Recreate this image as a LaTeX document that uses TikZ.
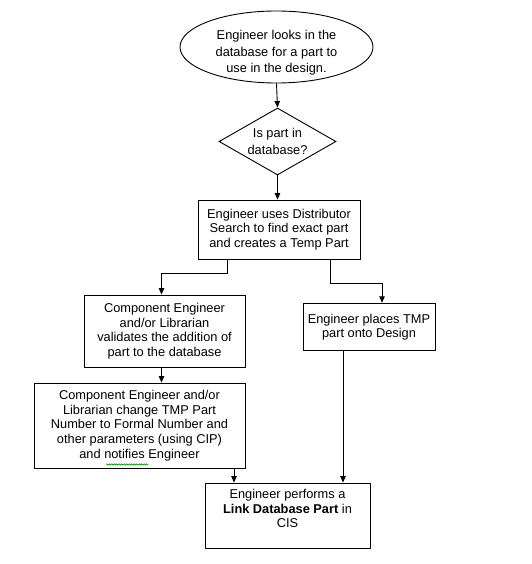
\documentclass[tikz,border=0pt]{standalone}
\usepackage{fontspec}
\setmainfont{Liberation Sans}
\usetikzlibrary{shapes.geometric,arrows.meta,decorations.pathmorphing}
\begin{document}
\begin{tikzpicture}[x=1pt,y=-1pt,
  line width=0.9pt,
  base/.style={draw=black, align=center, inner sep=0pt, font=\fontsize{12.8}{14.6}\selectfont},
  boxnode/.style={base, rectangle},
  tallfont/.style={font=\fontsize{12.8}{16.6}\selectfont},
  arr/.style={-{Triangle[length=6.5pt,width=5.5pt]}},
]
\useasboundingbox (0,0) rectangle (531,564);
\node[base, ellipse, minimum width=193pt, minimum height=72pt,
  label={[tallfont, align=center, yshift=-6pt]center:Engineer looks in the\\database for a part to\\use in the design.}] (e) at (276.5,47) {};
\node[base, diamond, aspect=1.75, minimum width=117pt, minimum height=67pt, tallfont] (d) at (277.5,141.5) {Is part in\\database?};
\node[boxnode, minimum width=162pt, minimum height=59pt] (b1) at (279,229.5) {Engineer uses Distributor\\Search to find exact part\\and creates a Temp Part};
\node[boxnode, minimum width=161pt, minimum height=72pt] (b2) at (164.5,331) {Component Engineer\\and/or Librarian\\validates the addition of\\part to the database};
\node[boxnode, minimum width=132pt, minimum height=47.5pt] (b5) at (369,327) {Engineer places TMP\\part onto Design};
\node[boxnode, minimum width=211pt, minimum height=85pt] (b3) at (139.5,425.5) {Component Engineer and/or\\Librarian change TMP Part\\Number to Formal Number and\\other parameters (using CIP)\\and notifies Engineer};
\node[boxnode, minimum width=165pt, minimum height=65pt,
  label={[font=\fontsize{12.8}{14.6}\selectfont, align=center, yshift=7pt]center:Engineer performs a\\\textbf{Link Database Part} in\\CIS}] (b4) at (287.5,515.5) {};

\coordinate (ka) at (227,273);
\coordinate (kb) at (161.5,273);
\coordinate (kc) at (330,283);
\coordinate (kd) at (382,283);
\coordinate (ke) at (234,0);
\coordinate (kf) at (343,0);

\draw[arr] (e.south) -- (d.north);
\draw[arr] (d.south) -- (d.south |- b1.north);
\draw[arr] (b1.south -| ka) -- (ka) -- (kb) -- (kb |- b2.north);
\draw[arr] (b1.south -| kc) -- (kc) -- (kd) -- (kd |- b5.north);
\draw[arr] (b2.south -| kb) -- (kb |- b3.north);
\draw[arr] (b3.south -| ke) -- (b4.north -| ke);
\draw[arr] (b5.south -| kf) -- (b4.north -| kf);

\draw[green!55!black, line width=0.6pt, decorate, decoration={snake, amplitude=0.7pt, segment length=2.5pt}] (106,464.5) -- (148,464.5);
\end{tikzpicture}
\end{document}
